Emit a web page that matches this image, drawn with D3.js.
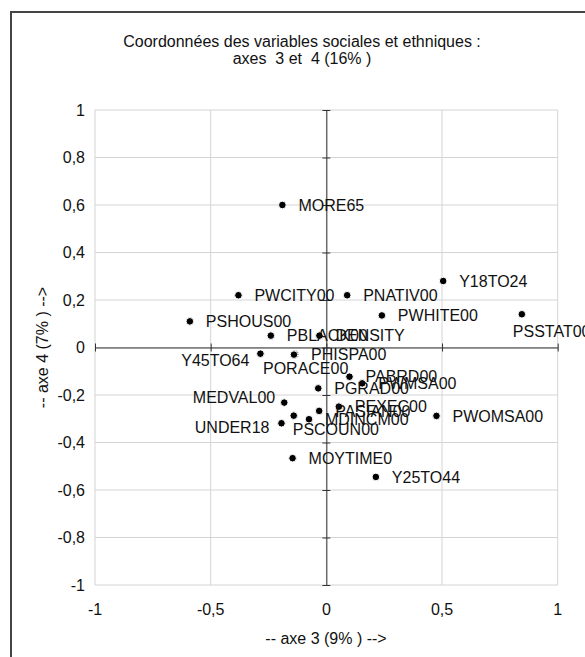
<!DOCTYPE html>
<html>
  <head>
    <title>Coordonnées axes 3 et 4</title>
    <script src="https://cdn.jsdelivr.net/npm/d3@7"></script>
    <style>
      body { margin: 0; background: #fff; }
      text { font-family: "Liberation Sans", Arial, Helvetica, sans-serif; fill: #111; }
    </style>
  </head>
  <body>
    <script>
      // Les variables et leurs coordonnées sur les axes 3 et 4
      const noms = ["MORE65", "PWCITY00", "PSHOUS00", "PBLACK00", "DENSITY", "PNATIV00",
        "Y18TO24", "PWHITE00", "PSSTAT00", "Y45TO64", "PHISPA00", "PORACE00",
        "PGRAD00", "PABRD00", "PWMSA00", "MEDVAL00", "PSCOUN00", "MDINCM00",
        "UNDER18", "PASIAN00", "PEXEC00", "PWOMSA00", "MOYTIME0", "Y25TO44"];
      const axe3 = [-0.19, -0.38, -0.59, -0.24, -0.03, 0.09,
        0.505, 0.24, 0.845, -0.285, -0.135, -0.14,
        -0.035, 0.10, 0.155, -0.182, -0.141, -0.075,
        -0.194, -0.031, 0.054, 0.476, -0.146, 0.214];
      const axe4 = [0.60, 0.22, 0.11, 0.05, 0.05, 0.22,
        0.28, 0.135, 0.14, -0.026, -0.029, -0.03,
        -0.172, -0.123, -0.151, -0.232, -0.287, -0.302,
        -0.319, -0.267, -0.249, -0.288, -0.466, -0.545];

      const ticksX = [-1, -0.5, 0, 0.5, 1];
      const ticksY = [-1, -0.8, -0.6, -0.4, -0.2, 0, 0.2, 0.4, 0.6, 0.8, 1];

      // étiquettes déplacées à la main (sinon à droite du point)
      const etiq = {
        PSSTAT00: [-9, 17, "start"],
        Y45TO64: [-11, 7, "end"],
        PORACE00: [-31, 14, "start"],
        MEDVAL00: [-9, -5, "end"],
        UNDER18: [-12, 4, "end"],
        PSCOUN00: [-1, 14, "start"]
      };

      const w = 585;
      const h = 657;
      const fr = d3.formatLocale({ decimal: ",", thousands: " ", grouping: [3], currency: ["", "€"], minus: "-" });
      const fmt = fr.format("~g");

      const svg = d3.select("body").append("svg").attr("width", w).attr("height", h);

      // cadre
      svg.append("rect")
        .attr("x", 11).attr("y", 12).attr("width", 620).attr("height", 700)
        .attr("fill", "none").attr("stroke", "#444").attr("stroke-width", 2);

      const x = d3.scaleLinear().domain([-1, 1]).range([95, 557.7]);
      const y = d3.scaleLinear().domain([-1, 1]).range([585, 110]);

      // grille
      svg.append("g").selectAll("line").data(ticksY).join("line")
        .attr("x1", x(-1)).attr("x2", x(1))
        .attr("y1", d => y(d)).attr("y2", d => y(d))
        .attr("stroke", "#d4d4d4");
      svg.append("g").selectAll("line").data(ticksX).join("line")
        .attr("y1", y(-1)).attr("y2", y(1))
        .attr("x1", d => x(d)).attr("x2", d => x(d))
        .attr("stroke", "#d4d4d4");

      // axes passant par 0, avec graduations en croix
      const axeY = svg.append("g").attr("transform", `translate(${x(0)},0)`)
        .call(d3.axisLeft(y).tickValues(ticksY).tickSizeInner(-4).tickSizeOuter(0).tickFormat(""));
      axeY.selectAll(".tick line").attr("x1", -4).attr("x2", 4);
      const axeX = svg.append("g").attr("transform", `translate(0,${y(0)})`)
        .call(d3.axisBottom(x).tickValues(ticksX).tickSizeInner(-4).tickSizeOuter(0).tickFormat(""));
      axeX.selectAll(".tick line").attr("y1", -4).attr("y2", 4);
      svg.selectAll(".domain, .tick line").attr("stroke", "#333");

      // libellés des graduations
      svg.append("g").selectAll("text").data(ticksY).join("text")
        .attr("x", 85).attr("y", d => y(d) + 5.7)
        .attr("text-anchor", "end").attr("font-size", 16)
        .text(d => fmt(d));
      svg.append("g").selectAll("text").data(ticksX).join("text")
        .attr("x", d => x(d)).attr("y", 615)
        .attr("text-anchor", "middle").attr("font-size", 16)
        .text(d => fmt(d));

      // points
      const pts = noms.map((n, i) => ({ nom: n, a: axe3[i], b: axe4[i] }));
      svg.append("g").selectAll("circle").data(pts).join("circle")
        .attr("cx", d => x(d.a)).attr("cy", d => y(d.b)).attr("r", 3.8)
        .attr("fill", "#000").attr("stroke", "#fff").attr("stroke-width", 1);

      svg.append("g").selectAll("text").data(pts).join("text")
        .attr("x", d => x(d.a) + (etiq[d.nom] ? etiq[d.nom][0] : 16))
        .attr("y", d => y(d.b) + 5.7 + (etiq[d.nom] ? etiq[d.nom][1] : 0))
        .attr("text-anchor", d => (etiq[d.nom] ? etiq[d.nom][2] : "start"))
        .attr("font-size", 16)
        .text(d => d.nom);

      // titres
      svg.append("text").attr("x", 302).attr("y", 46.5).attr("text-anchor", "middle")
        .attr("font-size", 16).text("Coordonnées des variables sociales et ethniques :");
      svg.append("text").attr("x", 302).attr("y", 64).attr("text-anchor", "middle")
        .attr("font-size", 16).style("white-space", "pre").text("axes  3 et  4 (16% )");
      svg.append("text").attr("x", 326).attr("y", 644).attr("text-anchor", "middle")
        .attr("font-size", 16).style("white-space", "pre").text("-- axe 3 (9% ) -->");
      svg.append("text").attr("transform", "translate(47.5,347.5) rotate(-90)")
        .attr("text-anchor", "middle").attr("font-size", 16)
        .style("white-space", "pre").text("-- axe 4 (7% ) -->");
    </script>
  </body>
</html>
